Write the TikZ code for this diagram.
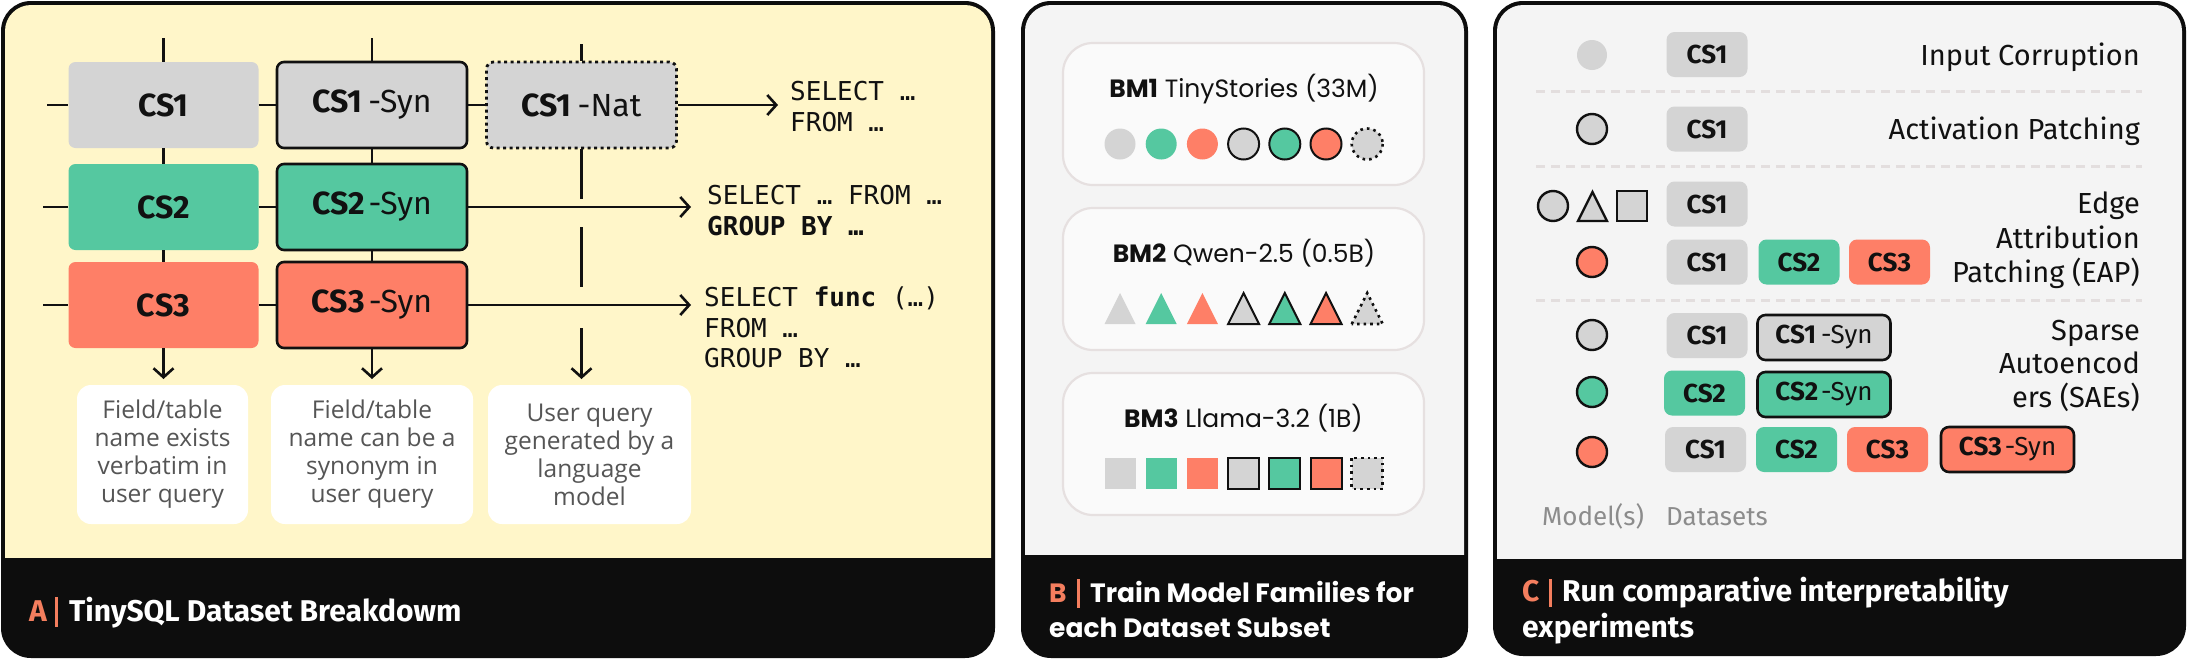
\documentclass[tikz,border=0pt]{standalone}
\usepackage{fontspec}
\setmainfont{Fira Sans}
\newfontfamily\popfont{Poppins}
\newfontfamily\codefont{DejaVu Sans Mono}
\newfontfamily\descfont{Open Sans}
\usetikzlibrary{arrows.meta}
\definecolor{cgray}{HTML}{D4D4D4}
\definecolor{cgreen}{HTML}{55C8A0}
\definecolor{csalmon}{HTML}{FE7F67}
\definecolor{pyellow}{HTML}{FFF6C9}
\definecolor{pgray}{HTML}{F4F4F4}
\definecolor{cardfill}{HTML}{FAFAFA}
\definecolor{cardline}{HTML}{E6E0E0}
\definecolor{sepline}{HTML}{E3DEDE}
\definecolor{barblack}{HTML}{0D0D0D}
\definecolor{torange}{HTML}{F47E5E}
\definecolor{desctext}{HTML}{555555}
\definecolor{axistext}{HTML}{8C8C8C}
\definecolor{ink}{HTML}{111111}
\begin{document}
\begin{tikzpicture}[x=1pt,y=-1pt,
  csA/.style={rectangle, rounded corners=7pt, minimum width=190pt, minimum height=86pt, inner sep=0pt, font=\fontsize{32}{38}\selectfont, text=ink},
  synA/.style={draw=ink, line width=2.6pt},
  natA/.style={draw=ink, line width=2.8pt, dash pattern=on 3pt off 3.5pt},
  conn/.style={draw=ink, line width=2.6pt},
  arr/.style={conn, -{Straight Barb[length=9pt,width=20pt]}},
  desc/.style={rectangle, rounded corners=14pt, fill=white, minimum height=139pt, inner sep=0pt, align=center, font=\descfont\fontsize{24.5}{28}\selectfont, text=desctext},
  codeL/.style={anchor=base west, inner sep=0pt, font=\codefont\fontsize{26}{31}\selectfont, text=ink},
  card/.style={rectangle, rounded corners=30pt, fill=cardfill, draw=cardline, line width=2.2pt, minimum width=361pt, minimum height=142pt, inner sep=0pt},
  bmtitle/.style={anchor=base, inner sep=0pt, font=\popfont\fontsize{25}{30}\selectfont, text=ink},
  shpnone/.style={draw=none},
  shpbord/.style={draw=ink, line width=2pt},
  shpdot/.style={draw=ink, line width=2.6pt, dash pattern=on 2.6pt off 4pt},
  chipC/.style={rectangle, rounded corners=8pt, minimum width=81pt, minimum height=45pt, inner sep=0pt, font=\fontsize{26}{30}\selectfont, text=ink},
  synC/.style={draw=ink, line width=2.6pt, minimum width=133pt},
  mC/.style={circle, minimum size=30pt, inner sep=0pt},
  mCb/.style={draw=ink, line width=2.4pt},
  labC/.style={anchor=base east, inner sep=0pt, font=\fontsize{29}{34}\selectfont, text=ink},
  axisC/.style={anchor=base west, inner sep=0pt, font=\fontsize{26}{34}\selectfont, text=axistext},
  titFS/.style={anchor=base west, inner sep=0pt, font=\bfseries\fontsize{30}{34}\selectfont},
  titPB/.style={anchor=base west, inner sep=0pt, font=\popfont\bfseries\fontsize{26.5}{34}\selectfont}
]
\useasboundingbox (0,0) rectangle (2187,659);
\fill[white] (0,0) rectangle (2187,659);

% ---------- panels ----------
\fill[barblack, rounded corners=30pt] (1,1) rectangle (995,658);
\begin{scope}
  \clip (0,0) rectangle (996,557);
  \fill[pyellow, rounded corners=26pt] (5,5) rectangle (991,654);
\end{scope}
\fill[barblack, rounded corners=30pt] (1021,1) rectangle (1468,658);
\begin{scope}
  \clip (1020,0) rectangle (1469,554);
  \fill[pgray, rounded corners=26pt] (1025,5) rectangle (1464,654);
\end{scope}
\fill[barblack, rounded corners=30pt] (1493,1) rectangle (2186,656);
\begin{scope}
  \clip (1492,0) rectangle (2187,558);
  \fill[pgray, rounded corners=26pt] (1497,5) rectangle (2182,652);
\end{scope}

% ---------- panel A ----------
\node[csA, fill=cgray] (cs1) at (163.5,105) {\bfseries CS1};
\node[csA, fill=cgray, synA] (cs1s) at (372,105) {\textbf{CS1}\hspace{6pt}-Syn};
\node[csA, fill=cgray, natA] (cs1n) at (581.5,105) {\textbf{CS1}\hspace{6pt}-Nat};
\node[csA, fill=cgreen] (cs2) at (163.5,207) {\bfseries CS2};
\node[csA, fill=cgreen, synA] (cs2s) at (372,207) {\textbf{CS2}\hspace{4pt}-Syn};
\node[csA, fill=csalmon] (cs3) at (163.5,305) {\bfseries CS3};
\node[csA, fill=csalmon, synA] (cs3s) at (372,305) {\textbf{CS3}\hspace{4pt}-Syn};

\coordinate (l1) at (47,105);
\coordinate (l2) at (43,207);
\coordinate (l3) at (43,305);
\coordinate (t1) at (163.5,38);
\coordinate (t2) at (372,38);
\coordinate (t3) at (581.5,44);
\coordinate (a1) at (778,105);
\coordinate (a2) at (691,207);
\coordinate (a3) at (691,305);
\coordinate (g1) at (581.5,199);
\coordinate (g2) at (581.5,227);
\coordinate (g3) at (581.5,287);
\coordinate (g4) at (581.5,328);
\coordinate (e1) at (163.5,379);
\coordinate (e2) at (372,379);
\coordinate (e3) at (581.5,379);

\draw[conn] (l1) -- (cs1.west);
\draw[conn] (cs1.east) -- (cs1s.west);
\draw[conn] (cs1s.east) -- (cs1n.west);
\draw[arr] (cs1n.east) -- (a1);
\draw[conn] (l2) -- (cs2.west);
\draw[conn] (cs2.east) -- (cs2s.west);
\draw[arr] (cs2s.east) -- (a2);
\draw[conn] (l3) -- (cs3.west);
\draw[conn] (cs3.east) -- (cs3s.west);
\draw[arr] (cs3s.east) -- (a3);

\draw[conn] (t1) -- (cs1.north);
\draw[conn] (cs1.south) -- (cs2.north);
\draw[conn] (cs2.south) -- (cs3.north);
\draw[conn] (t2) -- (cs1s.north);
\draw[conn] (cs1s.south) -- (cs2s.north);
\draw[conn] (cs2s.south) -- (cs3s.north);
\draw[conn] (t3) -- (cs1n.north);
\draw[conn] (cs1n.south) -- (g1);
\draw[conn] (g2) -- (g3);

\node[desc, minimum width=171pt] (d1) at (162.5,454.5) {Field/table\\name exists\\verbatim in\\user query};
\node[desc, minimum width=202pt] (d2) at (372,454.5) {Field/table\\name can be a\\synonym in\\user query};
\node[desc, minimum width=203pt] (d3) at (589.5,454.5) {User query\\generated by a\\language\\model};

\draw[arr] (cs3.south) -- (e1);
\draw[arr] (cs3s.south) -- (e2);
\draw[arr] (g4) -- (e3);

\node[codeL] (q1a) at (790,100) {SELECT …};
\node[codeL] (q1b) at (790,131) {FROM …};
\node[codeL] (q2a) at (707,204) {SELECT … FROM …};
\node[codeL] (q2b) at (707,235) {\bfseries GROUP BY …};
\node[codeL] (q3a) at (704,306) {SELECT \textbf{func} (…)};
\node[codeL] (q3b) at (704,337) {FROM …};
\node[codeL] (q3c) at (704,367) {GROUP BY …};

% title A
\node[titFS, text=torange] (ta) at (29,621) {A};
\fill[torange] (54.5,597) rectangle (57.5,627);
\node[titFS, text=white] (tatext) at (69,621) {TinySQL Dataset Breakdowm};

% ---------- panel B ----------
\node[card] (card1) at (1243.5,114) {};
\node[card] (card2) at (1243.5,279) {};
\node[card] (card3) at (1243.5,444) {};
\node[bmtitle] (bm1) at (1244,97) {\textbf{BM1} TinyStories (33M)};
\node[bmtitle] (bm2) at (1244,262) {\textbf{BM2} Qwen-2.5 (0.5B)};
\node[bmtitle] (bm3) at (1243.5,427) {\textbf{BM3} Llama-3.2 (1B)};
\foreach \i/\c/\s in {0/cgray/shpnone,1/cgreen/shpnone,2/csalmon/shpnone,3/cgray/shpbord,4/cgreen/shpbord,5/csalmon/shpbord,6/cgray/shpdot}{
  \pgfmathsetmacro{\cx}{1120+41.2*\i}
  \path[fill=\c, \s] (\cx,144) circle[radius=15.5];
  \path[fill=\c, \s] (\cx-15.5,324) -- (\cx,293) -- (\cx+15.5,324) -- cycle;
  \path[fill=\c, \s] (\cx-15.5,458) rectangle (\cx+15.5,489);
}
% title B
\node[titPB, text=torange] (tb) at (1049,602) {B};
\fill[torange] (1076.5,579) rectangle (1079.5,608);
\node[titPB, text=white] (tbtext1) at (1090,602) {Train Model Families for};
\node[titPB, text=white] (tbtext2) at (1049,637) {each Dataset Subset};

% ---------- panel C ----------
\draw[sepline, line width=3pt, dash pattern=on 9pt off 6pt] (1536,91) -- (2142,91);
\draw[sepline, line width=3pt, dash pattern=on 9pt off 6pt] (1536,166) -- (2142,166);
\draw[sepline, line width=3pt, dash pattern=on 9pt off 6pt] (1536,300) -- (2142,300);

% row 1
\node[mC, fill=cgray] (m1) at (1592,55) {};
\node[chipC, fill=cgray] (c1a) at (1707,54.5) {\bfseries CS1};
\node[labC] (lab1) at (2140,65) {Input Corruption};
% row 2
\node[mC, fill=cgray, mCb] (m2) at (1592,129) {};
\node[chipC, fill=cgray] (c2a) at (1707,129) {\bfseries CS1};
\node[labC] (lab2) at (2140,139) {Activation Patching};
% row 3
\node[mC, fill=cgray, mCb] (m3a) at (1553,206) {};
\path[fill=cgray, draw=ink, line width=2.4pt] (1578,221) -- (1592.5,192) -- (1607,221) -- cycle;
\path[fill=cgray, draw=ink, line width=2.4pt] (1617,191) rectangle (1647,221);
\node[chipC, fill=cgray] (c3a) at (1707,204) {\bfseries CS1};
\node[mC, fill=csalmon, mCb] (m3b) at (1592,262) {};
\node[chipC, fill=cgray] (c3b1) at (1707,262) {\bfseries CS1};
\node[chipC, fill=cgreen] (c3b2) at (1799,262) {\bfseries CS2};
\node[chipC, fill=csalmon] (c3b3) at (1889.5,262) {\bfseries CS3};
\node[labC] (lab3a) at (2140,213) {Edge};
\node[labC] (lab3b) at (2140,248) {Attribution};
\node[labC] (lab3c) at (2140,282) {Patching (EAP)};
% row 4
\node[mC, fill=cgray, mCb] (m4a) at (1592,335) {};
\node[chipC, fill=cgray] (c4a1) at (1707,335.5) {\bfseries CS1};
\node[chipC, fill=cgray, synC] (c4a2) at (1824,337.5) {\textbf{CS1}\hspace{5pt}-Syn};
\node[mC, fill=cgreen, mCb] (m4b) at (1592,392) {};
\node[chipC, fill=cgreen] (c4b1) at (1704.5,393) {\bfseries CS2};
\node[chipC, fill=cgreen, synC] (c4b2) at (1824,394.5) {\textbf{CS2}\hspace{3pt}-Syn};
\node[mC, fill=csalmon, mCb] (m4c) at (1592,452) {};
\node[chipC, fill=cgray] (c4c1) at (1705.5,449.5) {\bfseries CS1};
\node[chipC, fill=cgreen] (c4c2) at (1796.5,449.5) {\bfseries CS2};
\node[chipC, fill=csalmon] (c4c3) at (1887.5,449.5) {\bfseries CS3};
\node[chipC, fill=csalmon, synC] (c4c4) at (2007.5,449.5) {\textbf{CS3}\hspace{3pt}-Syn};
\node[labC] (lab4a) at (2140,340) {Sparse};
\node[labC] (lab4b) at (2140,373) {Autoencod};
\node[labC] (lab4c) at (2140,407) {ers (SAEs)};
\node[axisC] (axm) at (1542,525) {Model(s)};
\node[axisC] (axd) at (1666,525) {Datasets};
% title C
\node[titFS, text=torange] (tc) at (1522,601) {C};
\fill[torange] (1548.5,579) rectangle (1551.5,607);
\node[titFS, text=white] (tctext1) at (1562,601) {Run comparative interpretability};
\node[titFS, text=white] (tctext2) at (1522,637) {experiments};
\end{tikzpicture}
\end{document}
